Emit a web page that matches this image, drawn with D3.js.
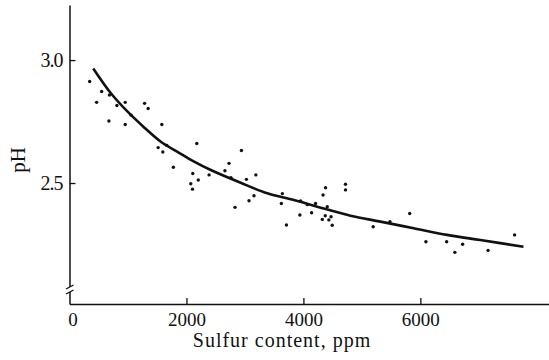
<!DOCTYPE html>
<html lang="en">
<head>
    <meta charset="UTF-8">
    <title>pH vs Sulfur content</title>
    <style>
        body {
            margin: 0;
            background: #fff;
        }
        text {
            font-family: "Liberation Serif", "DejaVu Serif", serif;
            fill: #111;
        }
    </style>
    <script src="https://d3js.org/d3.v7.min.js"></script>
</head>
<body>
    <script>
        const SVG_WIDTH = 549;
        const SVG_HEIGHT = 360;

        // measured samples (ppm, pH)
        const sulfurPpm = [345, 464, 550, 683, 674, 953, 953, 811, 1055, 1284,
            1345, 1579, 1516, 1596, 1665, 2177, 1776, 2108, 2074, 2103,
            2202, 2387, 2658, 2728, 2761, 2940, 3025, 3187, 3155, 3070,
            2831, 3640, 3623, 3710, 3952, 3940, 4067, 4140, 4208, 4336,
            4379, 4408, 4323, 4374, 4435, 4473, 4493, 4720, 4720, 5193,
            5480, 5818, 6095, 6450, 6590, 6723, 7158, 7611];
        const phValues = [2.913, 2.828, 2.872, 2.858, 2.752, 2.828, 2.738, 2.815, 2.776, 2.824,
            2.803, 2.738, 2.644, 2.626, 2.653, 2.661, 2.564, 2.539, 2.497, 2.475,
            2.512, 2.533, 2.550, 2.580, 2.522, 2.632, 2.515, 2.533, 2.448, 2.428,
            2.401, 2.457, 2.417, 2.329, 2.427, 2.370, 2.412, 2.379, 2.417, 2.451,
            2.481, 2.404, 2.352, 2.367, 2.350, 2.363, 2.328, 2.495, 2.472, 2.322,
            2.343, 2.376, 2.261, 2.261, 2.218, 2.251, 2.226, 2.289];

        // fitted curve
        const curvePpm = [406, 708, 994, 1250, 1562, 1847, 2131, 2416, 2928, 3384,
            3838, 4237, 4806, 5318, 5886, 6457, 7026, 7764];
        const curvePh = [2.966, 2.865, 2.790, 2.732, 2.668, 2.627, 2.587, 2.553, 2.501, 2.458,
            2.431, 2.404, 2.367, 2.343, 2.316, 2.289, 2.268, 2.241];

        const xTicks = [0, 2000, 4000, 6000];
        const yTicks = [2.5, 3.0];

        const svg = d3.select("body").append("svg")
            .attr("width", SVG_WIDTH)
            .attr("height", SVG_HEIGHT);

        const x = d3.scaleLinear().domain([0, 8200]).range([69.5, 549]);
        const y = d3.scaleLinear().domain([2.008, 3.224]).range([304, 5]);

        // y axis, ticks pointing inward
        const yAxis = svg.append("g")
            .attr("transform", "translate(69.5,0)")
            .call(d3.axisLeft(y).tickValues(yTicks).tickFormat(d3.format(".1f"))
                .tickSizeInner(-6).tickSizeOuter(0).tickPadding(7));
        yAxis.select(".domain").attr("stroke", "#111").attr("stroke-width", 1.5);
        yAxis.selectAll(".tick line").attr("stroke", "#111").attr("stroke-width", 1.3);
        yAxis.selectAll(".tick text").attr("font-size", "20px").attr("fill", "#111")
            .style("letter-spacing", "-1px");

        // x axis
        const xAxis = svg.append("g")
            .attr("transform", "translate(0,304)")
            .call(d3.axisBottom(x).tickValues(xTicks).tickFormat(d3.format("d"))
                .tickSizeInner(-6).tickSizeOuter(0).tickPadding(9));
        xAxis.select(".domain").attr("stroke", "#111").attr("stroke-width", 1.5);
        xAxis.selectAll(".tick line").attr("stroke", "#111").attr("stroke-width", 1.3)
            .filter(d => d === 0).remove();
        xAxis.selectAll(".tick text").attr("font-size", "19px").attr("fill", "#111")
            .filter(d => d === 0).attr("dx", 3);

        // axis break on y: white gap plus two slanted strokes
        svg.append("rect").attr("x", 67).attr("y", 287).attr("width", 5).attr("height", 5).attr("fill", "#fff");
        const brk = svg.append("g").attr("stroke", "#111").attr("stroke-width", 1.3);
        brk.append("line").attr("x1", 66).attr("y1", 289).attr("x2", 73.5).attr("y2", 285);
        brk.append("line").attr("x1", 66).attr("y1", 294).attr("x2", 73.5).attr("y2", 290);

        // axis titles
        svg.append("text")
            .attr("x", 282)
            .attr("y", 347)
            .attr("text-anchor", "middle")
            .attr("font-size", "20px")
            .style("letter-spacing", "1px")
            .text("Sulfur content, ppm");

        svg.append("text")
            .attr("transform", "translate(25,160) rotate(-90)")
            .attr("text-anchor", "middle")
            .attr("font-size", "21px")
            .text("pH");

        // fitted curve
        const line = d3.line()
            .x(i => x(curvePpm[i]))
            .y(i => y(curvePh[i]))
            .curve(d3.curveCatmullRom);

        svg.append("path")
            .datum(d3.range(curvePpm.length))
            .attr("d", line)
            .attr("fill", "none")
            .attr("stroke", "#111")
            .attr("stroke-width", 2.6);

        // data points
        svg.selectAll("circle")
            .data(d3.range(sulfurPpm.length))
            .enter()
            .append("circle")
            .attr("cx", i => x(sulfurPpm[i]))
            .attr("cy", i => y(phValues[i]))
            .attr("r", 1.7)
            .attr("fill", "#111");
    </script>
</body>
</html>
